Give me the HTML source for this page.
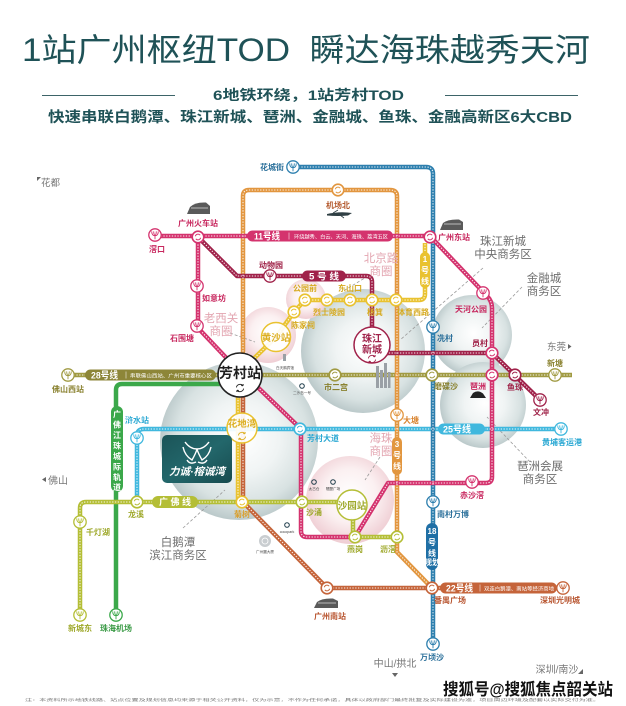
<!DOCTYPE html>
<html><head><meta charset="utf-8">
<style>
html,body{margin:0;padding:0;background:#fff;}
svg{display:block;font-family:"Liberation Sans","Noto Sans CJK SC",sans-serif;}
.s{font-size:8px;font-weight:bold;text-anchor:middle;}
.d{font-size:11.5px;text-anchor:middle;fill:#6e6e6e;}
.p{font-size:11.5px;text-anchor:middle;fill:#e3a6b1;}
.w{fill:#fff;font-weight:bold;}
.v{fill:#fff;font-size:8px;font-weight:bold;text-anchor:middle;}
.t{font-size:3.6px;text-anchor:middle;fill:#444;}
</style></head><body>
<svg width="626" height="706" viewBox="0 0 626 706">
<defs>
<radialGradient id="gg" cx="52%" cy="48%" r="52%"><stop offset="0" stop-color="#ffffff"/><stop offset="0.45" stop-color="#f0f4f4"/><stop offset="0.8" stop-color="#d8e2e2"/><stop offset="1" stop-color="#bccacb"/></radialGradient>
<radialGradient id="pg" cx="50%" cy="45%" r="55%"><stop offset="0" stop-color="#ffffff"/><stop offset="0.55" stop-color="#fbf0f1"/><stop offset="1" stop-color="#efcdd3"/></radialGradient>
<linearGradient id="lg" x1="0" y1="0" x2="1" y2="1"><stop offset="0" stop-color="#1b5458"/><stop offset="0.5" stop-color="#23676b"/><stop offset="1" stop-color="#174b4f"/></linearGradient>
<g id="T"><circle r="5.8" fill="#fff" stroke="currentColor" stroke-width="1.6"/><path d="M-2.7,-0.8 A2.8,2.8 0 0 1 2.2,-1.8 M2.7,0.8 A2.8,2.8 0 0 1 -2.2,1.8" fill="none" stroke="currentColor" stroke-width="0.9"/></g>
<g id="Y"><circle r="6.2" fill="#fff" stroke="currentColor" stroke-width="1.3"/><path d="M-3.3,-3.6 Q-3.3,0.6 0,0.8 Q3.3,0.6 3.3,-3.6 M-1.3,-3.6 Q-1.3,-0.6 0,0.8 Q1.3,-0.6 1.3,-3.6 M0,0.8 V4.3" fill="none" stroke="currentColor" stroke-width="0.9"/></g>
<g id="A"><path d="M-3.6,-0.6 A3.7,3.7 0 0 1 3,-2.2 M3.6,0.6 A3.7,3.7 0 0 1 -3,2.2 M3,-2.2 l0.2,-1.8 M3,-2.2 l-1.8,-0.3 M-3,2.2 l-0.2,1.8 M-3,2.2 l1.8,0.3" fill="none" stroke="currentColor" stroke-width="0.9"/></g>
<path id="lBlue" d="M293,167 H426 Q433,167 433,174 V644"/>
<path id="lOr" d="M243,360 V196 Q243,190 249,190 H390 Q397,190 397,196 V552 L432,588"/>
<path id="lBr" d="M243,390 V502 L327,588 H563"/>
<path id="lYe" d="M238,502 V374 L276,337 L294,312 L305,300 H419 Q425,300 425,294 V243"/>
<path id="lMa" d="M198,237 L237,276 H366 Q372,276 372,282 V345 M372,353 H492 L540,400"/>
<path id="lMg" d="M155,236 H430 L487,296 Q492,301 492,308 V477 Q492,483 486,483 H388 L355,537 H307 Q301,537 301,531 V429 L242,372 M198,236 V328 L234,366"/>
<path id="lOl" d="M68,375 H572"/>
<path id="lLb" d="M137,502 V436 Q137,429 144,429 H561"/>
<path id="lYg" d="M80,615 V508 Q80,502 86,502 H340 M353,518 V537 H397"/>
<path id="lGr" d="M226,384 H122 Q116,384 116,390 V615"/>
</defs>
<rect width="626" height="706" fill="#fff"/>

<!-- header -->
<text x="22" y="61" font-size="32" fill="#1f5257" textLength="568" lengthAdjust="spacingAndGlyphs" style="white-space:pre">1站广州枢纽TOD  瞬达海珠越秀天河</text>
<line x1="42" y1="95.5" x2="175" y2="95.5" stroke="#3d6468" stroke-width="1"/>
<line x1="445" y1="95.5" x2="578" y2="95.5" stroke="#3d6468" stroke-width="1"/>
<text x="213" y="100" font-size="14" font-weight="bold" fill="#1f5257" textLength="191" lengthAdjust="spacingAndGlyphs">6地铁环绕，1站芳村TOD</text>
<text x="48" y="122" font-size="14.5" font-weight="bold" fill="#1f5257" textLength="524" lengthAdjust="spacingAndGlyphs">快速串联白鹅潭、珠江新城、琶洲、金融城、鱼珠、金融高新区6大CBD</text>

<!-- bubbles -->
<circle cx="239" cy="441" r="79" fill="url(#gg)"/>
<circle cx="363" cy="351" r="62" fill="url(#gg)"/>
<circle cx="472" cy="335" r="40" fill="url(#gg)"/>
<circle cx="483" cy="405" r="43" fill="url(#gg)"/>
<circle cx="350" cy="500" r="44" fill="url(#pg)"/>
<circle cx="268" cy="335" r="28" fill="url(#pg)"/>
<circle cx="306" cy="299" r="20" fill="url(#pg)"/>

<!-- dashed leaders -->
<g stroke="#9a9a9a" stroke-width="0.8" stroke-dasharray="3 2" fill="none">
<path d="M483,268 L400,340"/><path d="M522,287 L482,328"/><path d="M530,462 L487,417"/>
<path d="M183,528 L225,490"/><path d="M230,333 L255,342"/><path d="M368,276 L345,290"/><path d="M380,457 L365,480"/>
</g>

<!-- lines -->
<g fill="none" stroke-width="4.5" stroke-linejoin="round">
<use href="#lOl" stroke="#a09a42"/>
<use href="#lLb" stroke="#40b8de"/>
<use href="#lGr" stroke="#3ba84a"/>
<use href="#lYg" stroke="#b4be36"/>
<use href="#lBr" stroke="#c5643a"/>
<use href="#lOr" stroke="#e2963f"/>
<use href="#lYe" stroke="#e9c230"/>
<use href="#lBlue" stroke="#2d7fae"/>
<use href="#lMa" stroke="#a0224a"/>
<use href="#lMg" stroke="#d4336e"/>
</g>
<g fill="none" stroke="#fff" stroke-width="1.1" stroke-dasharray="1.3 1.5" opacity="0.9">
<use href="#lOl"/><use href="#lLb"/><use href="#lYg"/><use href="#lBr"/><use href="#lOr"/><use href="#lYe"/><use href="#lBlue"/><use href="#lMa"/><use href="#lMg"/>
</g>

<!-- pills -->
<rect x="247" y="230.5" width="146" height="11" rx="5.5" fill="#d4336e"/>
<text x="254" y="239.5" font-size="9.5" class="w" textLength="26" lengthAdjust="spacingAndGlyphs">11号线</text>
<line x1="289" y1="232.5" x2="289" y2="239.5" stroke="#fff" stroke-width="0.5"/>
<text x="294" y="238.5" font-size="5.3" fill="#fff" textLength="94" lengthAdjust="spacingAndGlyphs">环绕越秀、白云、天河、海珠、荔湾五区</text>

<rect x="302" y="270.5" width="44" height="11" rx="5.5" fill="#a0224a"/>
<text x="309" y="279.5" font-size="9" class="w" textLength="30" lengthAdjust="spacingAndGlyphs">5 号 线</text>

<rect x="85" y="369.5" width="131" height="11" rx="5.5" fill="#8d8638"/>
<text x="91" y="378.5" font-size="9.5" class="w" textLength="27" lengthAdjust="spacingAndGlyphs">28号线</text>
<line x1="126" y1="371.5" x2="126" y2="378.5" stroke="#fff" stroke-width="0.5"/>
<text x="130" y="377.5" font-size="5.3" fill="#fff" textLength="82" lengthAdjust="spacingAndGlyphs">串联佛山西站、广州市重要核心区</text>

<rect x="152" y="496" width="46" height="12" rx="6" fill="#b4be36"/>
<text x="159" y="505" font-size="9" class="w" textLength="32" lengthAdjust="spacingAndGlyphs">广 佛 线</text>

<rect x="438" y="423.5" width="47" height="11" rx="5.5" fill="#40b8de"/>
<text x="443" y="432.5" font-size="9.5" class="w" textLength="28" lengthAdjust="spacingAndGlyphs">25号线</text>

<rect x="440" y="582.5" width="117" height="11" rx="5.5" fill="#c5643a"/>
<text x="446" y="591.5" font-size="9.5" class="w" textLength="27" lengthAdjust="spacingAndGlyphs">22号线</text>
<line x1="480" y1="584.5" x2="480" y2="591.5" stroke="#fff" stroke-width="0.5"/>
<text x="484" y="590.5" font-size="5.3" fill="#fff" textLength="70" lengthAdjust="spacingAndGlyphs">双连白鹅潭、南站等经济商地</text>

<rect x="392" y="437" width="10" height="38" rx="5" fill="#e2963f"/>
<text x="397" y="447" class="v">3</text><text x="397" y="458" class="v">号</text><text x="397" y="469" class="v">线</text>

<rect x="420" y="252" width="10" height="36" rx="5" fill="#e9c230"/>
<text x="425" y="262" class="v">1</text><text x="425" y="273" class="v">号</text><text x="425" y="284" class="v">线</text>

<rect x="426" y="523" width="12" height="47" rx="6" fill="#1f6fa5"/>
<text x="432" y="534" class="v" font-size="7">18</text><text x="432" y="545" class="v">号</text><text x="432" y="556" class="v">线</text><text x="432" y="565" class="v" font-size="3.8">(规划)</text>

<rect x="111" y="406" width="12" height="86" rx="6" fill="#3ba84a"/>
<g class="v" font-size="8.5">
<text x="117" y="417">广</text><text x="117" y="427.5">佛</text><text x="117" y="438">江</text><text x="117" y="448.5">珠</text><text x="117" y="459">城</text><text x="117" y="469.5">际</text><text x="117" y="480">轨</text><text x="117" y="490">道</text>
</g>

<!-- transfer stations -->
<use href="#T" x="198" y="237" color="#d4336e"/>
<use href="#T" x="430" y="237" color="#d4336e"/>
<use href="#T" x="338" y="190" color="#e2963f"/>
<use href="#T" x="305" y="300" color="#e9c230"/>
<use href="#T" x="294" y="312" color="#e9c230"/>
<use href="#T" x="327" y="300" color="#e9c230"/>
<use href="#T" x="350" y="300" color="#e9c230"/>
<use href="#T" x="372" y="300" color="#e9c230"/>
<use href="#T" x="396" y="300" color="#e9c230"/>
<use href="#T" x="335" y="375" color="#a09a42"/>
<use href="#T" x="432" y="375" color="#a09a42"/>
<use href="#T" x="492" y="353" color="#d4336e"/>
<use href="#T" x="492" y="375" color="#d4336e"/>
<use href="#T" x="515" y="375" color="#a0224a"/>
<use href="#T" x="300" y="429" color="#40b8de"/>
<use href="#T" x="242" y="502" color="#e9c230"/>
<use href="#T" x="137" y="502" color="#b4be36"/>
<use href="#T" x="302" y="502" color="#b4be36"/>
<use href="#T" x="355" y="537" color="#b4be36"/>
<use href="#T" x="397" y="537" color="#b4be36"/>
<use href="#T" x="327" y="588" color="#c5643a"/>
<use href="#T" x="432" y="588" color="#c5643a"/>

<!-- terminal Y stations -->
<use href="#Y" x="293" y="167" color="#2d7fae"/>
<use href="#Y" x="155" y="235" color="#d4336e"/>
<use href="#Y" x="197" y="286" color="#d4336e"/>
<use href="#Y" x="197" y="326" color="#d4336e"/>
<use href="#Y" x="270" y="276" color="#a0224a"/>
<use href="#Y" x="483" y="293" color="#d4336e"/>
<use href="#Y" x="433" y="327" color="#2d7fae"/>
<use href="#Y" x="540" y="400" color="#a0224a"/>
<use href="#Y" x="555" y="375" color="#a09a42"/>
<use href="#Y" x="561" y="429" color="#40b8de"/>
<use href="#Y" x="397" y="415" color="#e2963f"/>
<use href="#Y" x="472" y="482" color="#d4336e"/>
<use href="#Y" x="433" y="502" color="#2d7fae"/>
<use href="#Y" x="433" y="644" color="#2d7fae"/>
<use href="#Y" x="563" y="588" color="#c5643a"/>
<use href="#Y" x="68" y="375" color="#a09a42"/>
<use href="#Y" x="137" y="438" color="#40b8de"/>
<use href="#Y" x="80" y="522" color="#b4be36"/>
<use href="#Y" x="80" y="615" color="#b4be36"/>
<use href="#Y" x="116" y="615" color="#3ba84a"/>

<!-- big stations -->
<circle cx="276" cy="337" r="14.5" fill="#fff" fill-opacity="0.92" stroke="#e9c230" stroke-width="1.5"/>
<text x="276" y="341" font-size="9.5" font-weight="bold" fill="#dcaf22" text-anchor="middle">黄沙站</text>
<circle cx="242" cy="428" r="15" fill="#fff" fill-opacity="0.92" stroke="#e9c230" stroke-width="1.5"/>
<text x="242" y="427" font-size="9.5" font-weight="bold" fill="#dcaf22" text-anchor="middle">花地湾</text>
<use href="#A" x="242" y="436" color="#dcaf22"/>
<circle cx="372" cy="345" r="18" fill="#fff" stroke="#a0224a" stroke-width="1.5"/>
<text x="372" y="342" font-size="10" font-weight="bold" fill="#a0224a" text-anchor="middle">珠江</text>
<text x="372" y="353" font-size="10" font-weight="bold" fill="#a0224a" text-anchor="middle">新城</text>
<use href="#A" x="372" y="359" color="#a0224a"/>
<circle cx="352" cy="505" r="15" fill="#fff" fill-opacity="0.92" stroke="#b4be36" stroke-width="1.5"/>
<text x="352" y="509" font-size="9.5" font-weight="bold" fill="#9ea82a" text-anchor="middle">沙园站</text>
<circle cx="240" cy="375" r="22" fill="#fff" stroke="#222" stroke-width="1.6"/>
<text x="240" y="378" font-size="14" font-weight="bold" fill="#1e1e1e" text-anchor="middle">芳村站</text>
<use href="#A" x="240" y="388" color="#222"/>

<!-- logo box -->
<rect x="162" y="435" width="70" height="48" rx="5" fill="url(#lg)"/>
<g fill="none" stroke="#fff" stroke-width="1.4">
<path d="M185,442 Q190,449 197,449 Q204,449 209,442"/>
<path d="M183,447 Q185,456 192,460 Q196,453 197,449"/>
<path d="M211,447 Q209,456 202,460 Q198,453 197,449"/>
<path d="M187,460 Q190,465 196,462 M207,460 Q204,465 198,462"/>
</g>
<text x="197" y="475" font-size="10.5" font-weight="bold" fill="#fff" text-anchor="middle" font-style="italic">力诚·榕诚湾</text>

<!-- icons -->
<path d="M187,214 L190,207 Q195,202 206,202.5 L210,206 L210,214 Z" fill="#5a5a5a"/>
<path d="M191,208 H208" stroke="#ddd" stroke-width="0.8"/>
<path d="M440,230 L443,223 Q448,219 459,219.5 L463,222 L463,230 Z" fill="#5a5a5a"/>
<path d="M444,224 H461" stroke="#ddd" stroke-width="0.8"/>
<path d="M314,608 L317,602 Q322,598 333,598.5 L338,601 L338,608 Z" fill="#5a5a5a"/>
<path d="M318,603 H336" stroke="#ddd" stroke-width="0.8"/>
<path d="M327,214 Q340,211 352,213 L348,215.5 Q338,216.5 327,215.5 Z" fill="#2f3f44"/>
<path d="M333,213 L338,210 M340,215 L344,218" stroke="#2f3f44" stroke-width="0.8"/>
<path d="M470,398 L473,393 Q478,389.5 483,393.5 L486,398 Z" fill="#222"/>
<g fill="#9aa0a6"><rect x="376" y="366" width="3" height="22"/><rect x="380" y="370" width="3" height="18"/><rect x="384" y="363" width="3" height="25"/><rect x="388" y="372" width="2.5" height="16"/></g>
<rect x="283" y="354" width="3" height="7" fill="#9aa0a6"/>
<text x="285" y="369" class="t">白天鹅宾馆</text>
<circle cx="302" cy="386" r="2.3" fill="none" stroke="#1e3c4a" stroke-width="1"/>
<text x="302" y="394" class="t">二沙岛一号</text>
<circle cx="314" cy="482" r="2.3" fill="none" stroke="#1e3c4a" stroke-width="1"/>
<text x="314" y="490" class="t">太古仓</text>
<circle cx="333" cy="482" r="2.3" fill="none" stroke="#1e3c4a" stroke-width="1"/>
<text x="333" y="490" class="t">琶醍广场</text>
<circle cx="287" cy="525" r="2.3" fill="none" stroke="#1e3c4a" stroke-width="1"/>
<text x="287" y="533" class="t">cocopark</text>
<circle cx="265" cy="541" r="6" fill="#c9cdd0"/>
<circle cx="265" cy="541" r="3" fill="none" stroke="#fff" stroke-width="0.8"/>
<text x="265" y="553" class="t">广州圆大厦</text>

<!-- station labels -->
<g class="s">
<text x="272" y="170" fill="#2a6f9a">花城街</text>
<text x="198" y="226" fill="#c8285f">广州火车站</text>
<text x="157" y="252" fill="#c8285f">滘口</text>
<text x="214" y="301" fill="#c8285f">如意坊</text>
<text x="182" y="341" fill="#c8285f">石围塘</text>
<text x="271" y="268" fill="#9e1f45">动物园</text>
<text x="338" y="208" fill="#b45a2e">机场北</text>
<text x="454" y="240" fill="#c8285f">广州东站</text>
<text x="305" y="291" fill="#d6aa20">公园前</text>
<text x="350" y="291" fill="#d6aa20">东山口</text>
<text x="303" y="328" fill="#d6aa20">陈家祠</text>
<text x="329" y="315" fill="#d6aa20">烈士陵园</text>
<text x="375" y="315" fill="#d6aa20">杨箕</text>
<text x="413" y="315" fill="#d6aa20">体育西路</text>
<text x="445" y="341" fill="#2a6f9a">冼村</text>
<text x="471" y="312" fill="#c8285f">天河公园</text>
<text x="480" y="346" fill="#9e1f45">员村</text>
<text x="555" y="366" fill="#8a8230">新塘</text>
<text x="478" y="389" fill="#c8285f">琶洲</text>
<text x="515" y="390" fill="#9e1f45">鱼珠</text>
<text x="541" y="415" fill="#9e1f45">文冲</text>
<text x="446" y="389" fill="#8a8230">磨碟沙</text>
<text x="336" y="390" fill="#8a8230">市二宫</text>
<text x="68" y="392" fill="#8a8230">佛山西站</text>
<text x="137" y="423" fill="#2aa8d3">浒水站</text>
<text x="411" y="423" fill="#d98430">大塘</text>
<text x="323" y="441" fill="#2aa8d3">芳村大道</text>
<text x="562" y="445" fill="#2aa8d3">黄埔客运港</text>
<text x="472" y="498" fill="#c8285f">赤沙滘</text>
<text x="136" y="517" fill="#9ea82a">龙溪</text>
<text x="242" y="517" fill="#d9a030">菊树</text>
<text x="314" y="515" fill="#9ea82a">沙涌</text>
<text x="453" y="517" fill="#2a6f9a">南村万博</text>
<text x="98" y="535" fill="#9ea82a">千灯湖</text>
<text x="355" y="552" fill="#9ea82a">燕岗</text>
<text x="388" y="552" fill="#9ea82a">沥滘</text>
<text x="450" y="603" fill="#b85530">番禺广场</text>
<text x="560" y="603" fill="#b85530">深圳光明城</text>
<text x="330" y="619" fill="#b85530">广州南站</text>
<text x="80" y="631" fill="#9ea82a">新城东</text>
<text x="116" y="631" fill="#3a9a45">珠海机场</text>
<text x="432" y="660" fill="#2a6f9a">万顷沙</text>
</g>

<!-- direction labels -->
<path d="M37,177 L41,177 L37,181 Z" fill="#666"/>
<text x="41" y="186" font-size="9.5" fill="#777">花都</text>
<path d="M46,477 L42,479.5 L46,482 Z" fill="#666"/>
<text x="48" y="484" font-size="10" fill="#777">佛山</text>
<text x="547" y="350" font-size="9.5" fill="#777">东莞</text>
<path d="M568,344 L571.5,346.5 L568,349 Z" fill="#666"/>
<text x="395" y="667" font-size="10" fill="#777" text-anchor="middle">中山/拱北</text>
<path d="M392,673 L398,673 L395,677 Z" fill="#666"/>
<text x="557" y="673" font-size="10" fill="#777" text-anchor="middle">深圳/南沙</text>
<path d="M583,669 L583,674 L578,674 Z" fill="#666"/>

<!-- district labels -->
<text x="503" y="245" class="d">珠江新城</text>
<text x="503" y="258" class="d">中央商务区</text>
<text x="544" y="282" class="d">金融城</text>
<text x="544" y="295" class="d">商务区</text>
<text x="540" y="470" class="d">琶洲会展</text>
<text x="540" y="483" class="d">商务区</text>
<text x="178" y="546" class="d">白鹅潭</text>
<text x="178" y="559" class="d">滨江商务区</text>
<text x="221" y="322" class="p">老西关</text>
<text x="221" y="335" class="p">商圈</text>
<text x="381" y="262" class="p">北京路</text>
<text x="381" y="275" class="p">商圈</text>
<text x="381" y="442" class="p">海珠</text>
<text x="381" y="455" class="p">商圈</text>

<!-- watermark & disclaimer -->
<text x="443" y="695" font-size="16.5" font-weight="bold" fill="#111" stroke="#fff" stroke-width="2" paint-order="stroke" textLength="170" lengthAdjust="spacingAndGlyphs">搜狐号@搜狐焦点韶关站</text>
<text x="25" y="701" font-size="3.6" fill="#777" textLength="575" lengthAdjust="spacingAndGlyphs">注：本资料所示地铁线路、站点位置及规划信息均来源于相关公开资料，仅为示意，不作为任何承诺，具体以政府部门最终批复及实际建设为准，项目周边环境及配套以实际交付为准。</text>
</svg>
</body></html>
